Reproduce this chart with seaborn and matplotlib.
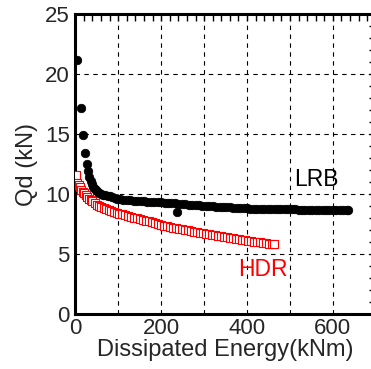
import numpy as np
import pandas as pd
import seaborn as sns
import matplotlib.pyplot as plt
from matplotlib.ticker import MultipleLocator

# LRB 数据 (黑色实心圆)
lrb_energy = [4.7, 13, 17, 22, 26.5, 30, 33, 36, 39, 42, 45, 48, 52, 56, 60, 65, 70, 75, 80, 86,
              92, 98, 105, 112, 120, 128, 136, 144, 152, 160, 168, 176, 184, 192, 200, 208, 216,
              224, 232, 236, 240, 248, 256, 264, 272, 280, 288, 296, 304, 312, 320, 328, 336, 344,
              352, 360, 368, 376, 384, 392, 400, 408, 416, 424, 432, 440, 448, 456, 464, 472, 480,
              488, 496, 504, 512, 520, 528, 536, 544, 552, 560, 568, 576, 584, 592, 600, 608, 616,
              624, 632, 636]
lrb_qd = [21.2, 17.2, 14.9, 13.4, 12.5, 11.9, 11.45, 11.1, 10.8, 10.6, 10.45, 10.3, 10.15, 10.05,
          9.98, 9.92, 9.88, 9.84, 9.8, 9.74, 9.68, 9.62, 9.58, 9.53, 9.5, 9.48, 9.45, 9.43, 9.41,
          9.39, 9.37, 9.35, 9.33, 9.31, 9.3, 9.28, 9.26, 9.24, 9.22, 8.47, 9.2, 9.17, 9.15, 9.12,
          9.1, 9.07, 9.05, 9.03, 9.01, 8.99, 8.97, 8.95, 8.93, 8.92, 8.9, 8.88, 8.86, 8.84, 8.82,
          8.81, 8.8, 8.79, 8.78, 8.78, 8.77, 8.76, 8.76, 8.75, 8.75, 8.74, 8.74, 8.73, 8.73, 8.72,
          8.72, 8.71, 8.71, 8.7, 8.7, 8.69, 8.69, 8.68, 8.68, 8.67, 8.67, 8.66, 8.66, 8.66, 8.65,
          8.65, 8.65]

# HDR 数据 (红色空心方块)
hdr_energy = [1.6, 5, 8, 11, 14, 17, 20, 24, 28, 32, 36, 40, 45, 50, 55, 60, 66, 72, 78, 84, 90,
              96, 102, 108, 115, 122, 129, 136, 143, 150, 157, 164, 171, 178, 185, 192, 199, 206,
              213, 220, 227, 234, 241, 248, 255, 262, 269, 276, 283, 290, 297, 304, 311, 318, 325,
              332, 339, 346, 353, 360, 367, 374, 381, 388, 395, 402, 409, 416, 423, 430, 437, 444,
              451, 458, 463]
hdr_qd = [11.6, 10.95, 10.75, 10.55, 10.35, 10.2, 10.05, 9.9, 9.75, 9.6, 9.48, 9.38, 9.25, 9.12,
          9.02, 8.93, 8.83, 8.74, 8.66, 8.58, 8.5, 8.43, 8.36, 8.3, 8.23, 8.16, 8.09, 8.02, 7.96,
          7.9, 7.84, 7.78, 7.71, 7.64, 7.57, 7.5, 7.43, 7.37, 7.31, 7.26, 7.2, 7.14, 7.09, 7.05,
          7.0, 6.96, 6.91, 6.87, 6.83, 6.78, 6.74, 6.7, 6.65, 6.61, 6.56, 6.52, 6.48, 6.44, 6.39,
          6.35, 6.31, 6.26, 6.22, 6.18, 6.13, 6.09, 6.06, 6.02, 5.99, 5.96, 5.93, 5.89, 5.86, 5.83,
          5.8]

lrb = pd.DataFrame({'E': lrb_energy, 'Qd': lrb_qd})
hdr = pd.DataFrame({'E': hdr_energy, 'Qd': hdr_qd})

sns.set_style('white')
plt.rcParams['font.family'] = ['Liberation Sans', 'DejaVu Sans']

fig = plt.figure(figsize=(3.71, 3.69), dpi=100)
ax = fig.add_axes([0.203, 0.149, 0.81, 0.813])

sns.scatterplot(data=lrb, x='E', y='Qd', ax=ax, marker='o', s=38, color='black',
                edgecolor='black', linewidth=0.5, zorder=3)
sns.scatterplot(data=hdr, x='E', y='Qd', ax=ax, marker='s', s=38, facecolor='white',
                edgecolor='red', linewidth=0.8, zorder=3)

ax.set_xlim(0, 700)
ax.set_ylim(0, 25)
ax.xaxis.set_major_locator(MultipleLocator(200))
ax.xaxis.set_minor_locator(MultipleLocator(20))
ax.yaxis.set_major_locator(MultipleLocator(5))
ax.yaxis.set_minor_locator(MultipleLocator(1))

# 网格线 每100和每5
for gx in [100, 200, 300, 400, 500, 600]:
    ax.axvline(gx, color='black', lw=0.8, ls=(0, (4, 4)), zorder=1)
for gy in [5, 10, 15, 20]:
    ax.axhline(gy, color='black', lw=0.8, ls=(0, (4, 4)), zorder=1)

ax.tick_params(which='both', direction='in', top=True, right=True, length=5, width=1,
               color='black', labelsize=16)
ax.tick_params(axis='x', pad=3)
ax.tick_params(axis='y', pad=4)
for sp in ax.spines.values():
    sp.set_linewidth(2.2)
    sp.set_color('black')

ax.set_xlabel('Dissipated Energy(kNm)', fontsize=17, labelpad=0)
ax.set_ylabel('Qd (kN)', fontsize=17, labelpad=5)

ax.text(561, 11.17, 'LRB', fontsize=16.5, color='black', ha='center', va='center')
ax.text(437, 3.75, 'HDR', fontsize=16.5, color='red', ha='center', va='center')

fig.savefig('out.png', dpi=100)
